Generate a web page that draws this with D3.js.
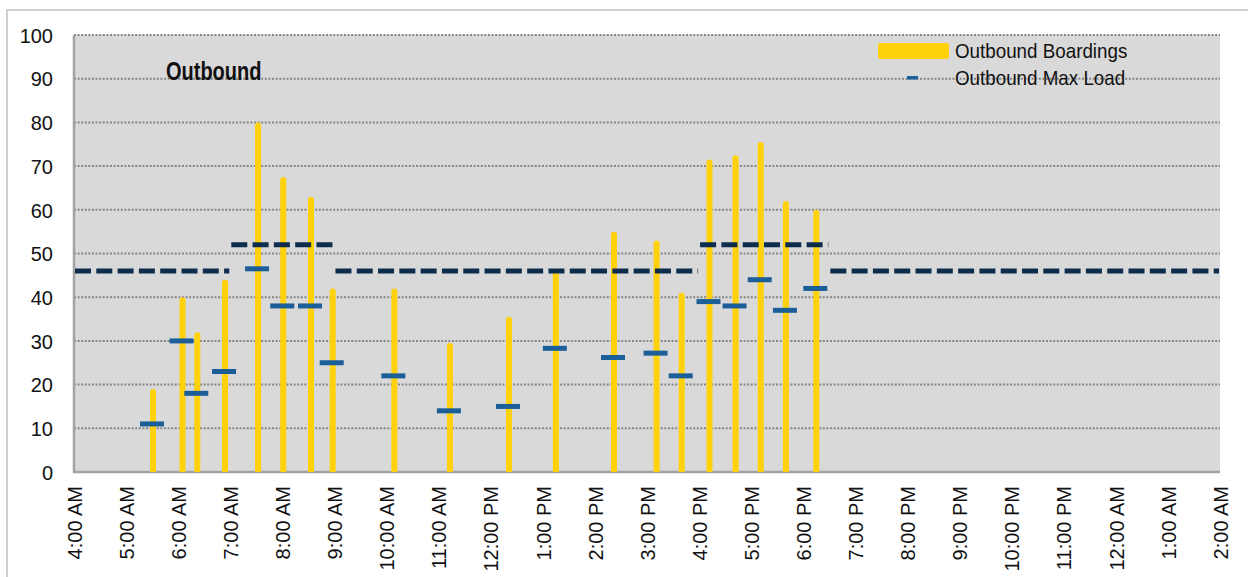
<!DOCTYPE html>
<html>
<head>
<meta charset="utf-8">
<script src="https://cdn.jsdelivr.net/npm/d3@7"></script>
<style>
  body { margin: 0; background: #fff; }
  #chart text { font-family: "Liberation Sans", Arial, sans-serif; fill: #111; }
  #chart .title { font-weight: bold; }
</style>
</head>
<body>
<div id="chart"></div>
<script>
// trip start times and their values
const tripTimes = [
  "5:31 AM", "6:05 AM", "6:22 AM", "6:54 AM", "7:32 AM", "8:01 AM", "8:33 AM",
  "8:58 AM", "10:09 AM", "11:13 AM", "12:21 PM", "1:15 PM", "2:22 PM", "3:11 PM",
  "3:40 PM", "4:12 PM", "4:42 PM", "5:11 PM", "5:40 PM", "6:15 PM",
];
const boardings = [19, 40, 32, 44, 80, 67.5, 63, 42, 42, 29.5, 35.5, 46, 55, 53, 41, 71.5, 72.5, 75.5, 62, 60];
const maxLoad = [11, 30, 18, 23, 46.5, 38, 38, 25, 22, 14, 15, 28.3, 26.2, 27.2, 22, 39, 38, 44, 37, 42];

// seated capacity steps
const capacityStart = ["4:00 AM", "7:00 AM", "9:00 AM", "4:00 PM", "6:30 PM"];
const capacityEnd = ["7:00 AM", "9:00 AM", "4:00 PM", "6:30 PM", "2:00 AM"];
const capacityValues = [46, 52, 46, 52, 46];

const xTickLabels = [
  "4:00 AM", "5:00 AM", "6:00 AM", "7:00 AM", "8:00 AM", "9:00 AM", "10:00 AM",
  "11:00 AM", "12:00 PM", "1:00 PM", "2:00 PM", "3:00 PM", "4:00 PM", "5:00 PM",
  "6:00 PM", "7:00 PM", "8:00 PM", "9:00 PM", "10:00 PM", "11:00 PM", "12:00 AM",
  "1:00 AM", "2:00 AM",
];
const yTicks = [0, 10, 20, 30, 40, 50, 60, 70, 80, 90, 100];

// hours since 4:00 AM (service day runs past midnight)
function serviceHours(str) {
  const [, h, m, ap] = str.match(/(\d+):(\d+) (AM|PM)/);
  let h24 = (+h % 12) + (ap === "PM" ? 12 : 0);
  return ((h24 - 4 + 24) % 24) + +m / 60;
}

class LoadChart {
  constructor(el) {
    this.el = el;
    this.width = 1248;
    this.height = 577;
    this.margin = { top: 35, right: 28, bottom: 105, left: 74 };
    this.colors = {
      plot: "#d9d9d9",
      grid: "#858585",
      axis: "#a3a3a3",
      bar: "#ffd10a",
      load: "#1b5e98",
      capacity: "#0d2d4d",
    };
    this.init();
  }

  init() {
    const m = this.margin;
    this.x = d3.scaleLinear().domain([0, 22]).range([m.left, this.width - m.right]);
    this.y = d3.scaleLinear().domain([0, 100]).range([this.height - m.bottom, m.top]);

    this.svg = d3.select(this.el).append("svg")
      .attr("width", this.width)
      .attr("height", this.height);

    this.svg.append("rect")
      .attr("x", 7).attr("y", 10)
      .attr("width", this.width + 10).attr("height", this.height + 10)
      .attr("fill", "none").attr("stroke", "#cfcfcf").attr("stroke-width", 2);

    this.svg.append("clipPath").attr("id", "plot-clip")
      .append("rect")
      .attr("x", m.left).attr("y", m.top - 5)
      .attr("width", this.width - m.left - m.right)
      .attr("height", this.height - m.top - m.bottom + 5);

    this.renderPlot();
    this.renderAxes();
    this.renderBars();
    this.renderCapacity();
    this.renderLoads();
    this.renderLegend();
  }

  renderPlot() {
    const m = this.margin;
    this.svg.append("rect")
      .attr("x", m.left).attr("y", m.top)
      .attr("width", this.width - m.left - m.right)
      .attr("height", this.y(0) - m.top)
      .attr("fill", this.colors.plot);

    this.svg.append("g")
      .selectAll("line")
      .data(yTicks.filter((d) => d > 0))
      .join("line")
      .attr("x1", m.left).attr("x2", this.width - m.right)
      .attr("y1", (d) => this.y(d)).attr("y2", (d) => this.y(d))
      .attr("stroke", this.colors.grid)
      .attr("stroke-width", 2)
      .attr("stroke-dasharray", "2,1.6");

    // condensed bold title, squeezed horizontally
    this.svg.append("text")
      .attr("class", "title")
      .attr("transform", "translate(166,80) scale(0.8,1)")
      .attr("font-size", 25)
      .text("Outbound");
  }

  renderAxes() {
    const m = this.margin;
    this.svg.append("g")
      .attr("transform", `translate(${m.left},0)`)
      .call(d3.axisLeft(this.y).tickValues(yTicks).tickSize(0).tickPadding(21))
      .call((g) => g.select(".domain").remove())
      .call((g) => g.selectAll("text").attr("font-size", 20).attr("dy", "0.36em"));

    this.svg.append("g")
      .attr("transform", `translate(0,${this.y(0)})`)
      .call(
        d3.axisBottom(this.x)
          .tickValues(xTickLabels.map(serviceHours))
          .tickFormat((d, i) => xTickLabels[i])
          .tickSize(0)
      )
      .call((g) => g.select(".domain").remove())
      .call((g) =>
        g.selectAll("text")
          .attr("font-size", 20)
          .attr("transform", "rotate(-90)")
          .attr("text-anchor", "end")
          .attr("x", -14).attr("y", 0)
          .attr("dy", "0.36em")
      );

    this.svg.append("path")
      .attr("d", `M${m.left},${m.top}V${this.y(0)}H${this.width - m.right}`)
      .attr("fill", "none")
      .attr("stroke", this.colors.axis)
      .attr("stroke-width", 2.5);
  }

  renderBars() {
    const barWidth = 6;
    this.svg.append("g")
      .attr("clip-path", "url(#plot-clip)")
      .selectAll("rect")
      .data(tripTimes.map((t, i) => ({ t: serviceHours(t), v: boardings[i] })))
      .join("rect")
      .attr("x", (d) => this.x(d.t) - barWidth / 2)
      .attr("y", (d) => this.y(d.v))
      .attr("width", barWidth)
      .attr("height", (d) => this.y(0) - this.y(d.v) + 4)
      .attr("rx", 3)
      .attr("fill", this.colors.bar);
  }

  renderCapacity() {
    this.svg.append("g")
      .selectAll("line")
      .data(capacityValues.map((v, i) => ({
        x1: serviceHours(capacityStart[i]),
        x2: serviceHours(capacityEnd[i]),
        v,
      })))
      .join("line")
      .attr("x1", (d) => this.x(d.x1) + 1)
      .attr("x2", (d) => this.x(d.x2) - 1)
      .attr("y1", (d) => this.y(d.v)).attr("y2", (d) => this.y(d.v))
      .attr("stroke", this.colors.capacity)
      .attr("stroke-width", 5)
      .attr("stroke-dasharray", "16,5.3");
  }

  renderLoads() {
    const w = 24;
    const h = 5;
    this.svg.append("g")
      .selectAll("rect")
      .data(tripTimes.map((t, i) => ({ t: serviceHours(t), v: maxLoad[i] })))
      .join("rect")
      .attr("x", (d) => this.x(d.t) - w / 2 - 1)
      .attr("y", (d) => this.y(d.v) - h / 2)
      .attr("width", w)
      .attr("height", h)
      .attr("fill", this.colors.load);
  }

  renderLegend() {
    const g = this.svg.append("g");
    g.append("rect")
      .attr("x", 878).attr("y", 43)
      .attr("width", 71).attr("height", 16)
      .attr("rx", 2)
      .attr("fill", this.colors.bar);
    g.append("rect")
      .attr("x", 907).attr("y", 76)
      .attr("width", 11).attr("height", 3.5)
      .attr("fill", this.colors.load);
    g.selectAll("text")
      .data(["Outbound Boardings", "Outbound Max Load"])
      .join("text")
      .attr("transform", (d, i) => `translate(955,${58 + i * 27}) scale(0.94,1)`)
      .attr("font-size", 20)
      .text((d) => d);
  }
}

new LoadChart(document.getElementById("chart"));
</script>
</body>
</html>
